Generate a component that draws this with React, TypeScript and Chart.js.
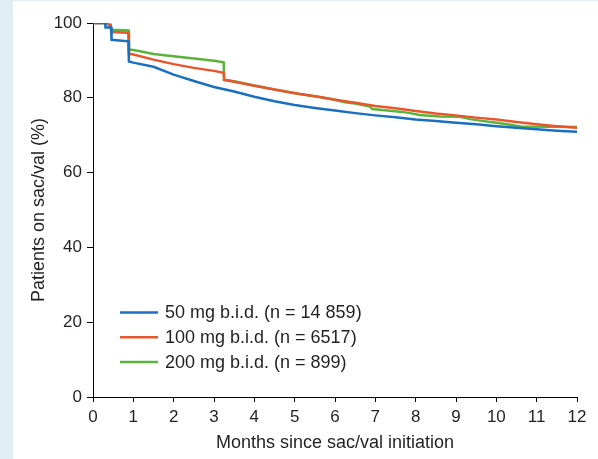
import React, { useEffect, useRef } from "react";
import { Chart, registerables } from "chart.js";

Chart.register(...registerables);

// ---- Data ----
const SERIES_LABELS = [
  "50 mg b.i.d. (n = 14 859)",
  "100 mg b.i.d. (n = 6517)",
  "200 mg b.i.d. (n = 899)",
];
const SERIES_COLORS = ["#1b6fc0", "#e9562b", "#5ab43c"];

const MONTHS_50 = [0, 0.3, 0.31, 0.45, 0.46, 0.88, 0.89, 1.0, 1.5, 2.0, 2.5, 3.0, 3.5, 4.0, 4.5, 5.0, 5.5, 6.0, 6.5, 7.0, 7.5, 8.0, 8.5, 9.0, 9.5, 10.0, 10.5, 11.0, 11.5, 12.0];
const PCT_50 = [100, 100, 98.8, 98.8, 95.5, 95.1, 89.7, 89.4, 88.3, 86.2, 84.5, 82.9, 81.7, 80.3, 79.1, 78.1, 77.3, 76.6, 75.9, 75.3, 74.8, 74.2, 73.8, 73.3, 72.9, 72.4, 72.0, 71.6, 71.2, 70.9];

const MONTHS_100 = [0, 0.35, 0.4, 0.44, 0.45, 0.88, 0.89, 1.0, 1.5, 2.0, 2.5, 3.0, 3.24, 3.25, 3.5, 4.0, 4.5, 5.0, 5.5, 6.0, 6.5, 7.0, 7.5, 8.0, 8.5, 9.0, 9.5, 10.0, 10.5, 11.0, 11.5, 12.0];
const PCT_100 = [100, 100, 99.5, 99.5, 97.6, 97.4, 91.8, 91.6, 90.2, 89.0, 88.0, 87.2, 86.7, 84.8, 84.3, 83.2, 82.2, 81.2, 80.4, 79.5, 78.7, 77.8, 77.2, 76.5, 75.8, 75.3, 74.7, 74.2, 73.5, 72.9, 72.4, 72.0];

const MONTHS_200 = [0, 0.35, 0.4, 0.44, 0.45, 0.88, 0.89, 1.0, 1.2, 1.5, 2.0, 2.5, 3.0, 3.24, 3.25, 3.5, 4.0, 4.5, 5.13, 5.63, 6.0, 6.25, 6.5, 6.87, 6.92, 7.3, 7.61, 7.86, 8.1, 8.6, 9.1, 9.35, 9.6, 10.09, 10.34, 10.6, 12.0];
const PCT_200 = [100, 100, 99.3, 99.3, 98.2, 98.0, 92.9, 92.8, 92.4, 91.7, 91.1, 90.5, 89.9, 89.5, 84.8, 84.4, 83.3, 82.2, 81.0, 80.2, 79.5, 78.8, 78.5, 77.7, 77.0, 76.6, 76.3, 75.9, 75.4, 75.0, 74.9, 74.3, 73.9, 73.2, 72.8, 72.3, 72.2];

const X_TICKS = [0, 1, 2, 3, 4, 5, 6, 7, 8, 9, 10, 11, 12];
const Y_TICKS = [0, 20, 40, 60, 80, 100];

const X_TITLE = "Months since sac/val initiation";
const Y_TITLE = "Patients on sac/val (%)";

const FONT = "'Liberation Sans', Arial, Helvetica, sans-serif";
const TEXT_COLOR = "#231f20";

function toPoints(xs: number[], ys: number[]) {
  return xs.map((x, i) => ({ x, y: ys[i] }));
}

const insideLegend = {
  id: "insideLegend",
  afterDatasetsDraw(chart: any) {
    const { ctx, chartArea } = chart;
    const x0 = chartArea.left + 27;
    const y0 = chartArea.bottom - 84.5;
    ctx.save();
    chart.data.datasets.forEach((ds: any, i: number) => {
      const y = y0 + i * 24.7;
      ctx.strokeStyle = ds.borderColor;
      ctx.lineWidth = 2.5;
      ctx.beginPath();
      ctx.moveTo(x0, y);
      ctx.lineTo(x0 + 38, y);
      ctx.stroke();
      ctx.fillStyle = TEXT_COLOR;
      ctx.font = `18px ${FONT}`;
      ctx.textBaseline = "middle";
      ctx.textAlign = "left";
      ctx.fillText(ds.label, x0 + 45, y + 1);
    });
    ctx.restore();
  },
};

export default function App() {
  const ref = useRef<HTMLCanvasElement | null>(null);

  useEffect(() => {
    if (!ref.current) return;
    const seriesX = [MONTHS_50, MONTHS_100, MONTHS_200];
    const seriesY = [PCT_50, PCT_100, PCT_200];
    const chart = new Chart(ref.current, {
      type: "line",
      data: {
        datasets: SERIES_LABELS.map((label, i) => ({
          label,
          data: toPoints(seriesX[i], seriesY[i]),
          borderColor: SERIES_COLORS[i],
          backgroundColor: SERIES_COLORS[i],
          borderWidth: 2.5,
          pointRadius: 0,
          tension: 0,
          fill: false,
        })),
      },
      options: {
        animation: false,
        responsive: false,
        devicePixelRatio: 1,
        layout: { padding: { left: 0, top: 23, right: 21, bottom: 0 } },
        plugins: {
          legend: { display: false },
          tooltip: { enabled: false },
        },
        scales: {
          x: {
            type: "linear",
            min: 0,
            max: 12,
            afterFit: (s: any) => {
              s.height = 62;
            },
            afterBuildTicks: (s: any) => {
              s.ticks = X_TICKS.map((v) => ({ value: v }));
            },
            grid: {
              drawOnChartArea: false,
              drawTicks: true,
              tickLength: 5,
              tickColor: "#000",
              tickWidth: 1,
            },
            border: { display: true, color: "#000", width: 1 },
            ticks: {
              color: TEXT_COLOR,
              font: { family: FONT, size: 17 },
              padding: 5,
              maxRotation: 0,
            },
            title: {
              display: true,
              text: X_TITLE,
              color: TEXT_COLOR,
              font: { family: FONT, size: 18 },
              padding: { top: 0, bottom: 5 },
            },
          },
          y: {
            type: "linear",
            min: 0,
            max: 100,
            afterFit: (s: any) => {
              s.width = 93;
            },
            afterBuildTicks: (s: any) => {
              s.ticks = Y_TICKS.map((v) => ({ value: v }));
            },
            grid: {
              drawOnChartArea: false,
              drawTicks: true,
              tickLength: 6,
              tickColor: "#000",
              tickWidth: 1,
            },
            border: { display: true, color: "#000", width: 1 },
            ticks: {
              color: TEXT_COLOR,
              font: { family: FONT, size: 17 },
              padding: 5,
            },
            title: {
              display: true,
              text: Y_TITLE,
              color: TEXT_COLOR,
              font: { family: FONT, size: 18 },
              padding: { top: 28, bottom: 0 },
            },
          },
        },
      },
      plugins: [insideLegend],
    } as any);
    return () => chart.destroy();
  }, []);

  return (
    <div
      style={{
        position: "fixed",
        left: 0,
        top: 0,
        width: 598,
        height: 459,
        background: "#deeef4",
        overflow: "hidden",
      }}
    >
      <div
        style={{
          position: "absolute",
          left: 13,
          top: 1,
          right: 0,
          bottom: 0,
          background: "#ffffff",
        }}
      />
      <canvas
        ref={ref}
        width={598}
        height={459}
        style={{ position: "absolute", left: 0, top: 0, width: 598, height: 459 }}
      />
    </div>
  );
}
